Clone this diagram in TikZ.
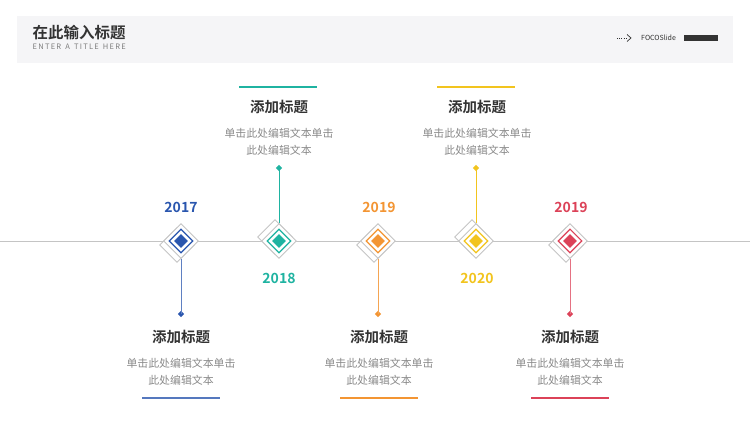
\documentclass[tikz,border=0pt]{standalone}
\usepackage{fontspec}
\setmainfont{Noto Sans CJK SC}
\newfontfamily\cjk{Noto Sans CJK SC}
\newfontfamily\cjkb{Noto Sans CJK SC Bold}
\usetikzlibrary{shapes.geometric}
\definecolor{cblue}{HTML}{2A56AE}
\definecolor{cteal}{HTML}{1FB3A1}
\definecolor{corange}{HTML}{F39533}
\definecolor{cyellow}{HTML}{F2C41E}
\definecolor{cred}{HTML}{DC4258}
\definecolor{hdrbg}{HTML}{F5F5F7}
\definecolor{lgray}{HTML}{C4C4C4}
\definecolor{txtgray}{HTML}{8A8A8A}
\definecolor{ttl}{HTML}{333333}
\tikzset{
  dia/.style={shape=diamond, aspect=1, inner sep=0pt, minimum width=#1, minimum height=#1},
  outerdia/.style={dia=35pt, draw=lgray, fill=white, line width=0.9pt},
  shadowdia/.style={dia=35pt, draw=lgray, line width=0.9pt},
  ringdia/.style={dia=24pt, draw=#1, line width=1.1pt},
  coredia/.style={dia=14pt, fill=#1},
  dotdia/.style={dia=6.5pt, fill=#1},
  stem/.style={draw=#1, line width=1pt},
  year/.style={text=#1, font=\cjkb\fontsize{14}{16}\selectfont, inner sep=0pt},
  blktitle/.style={text=ttl, font=\cjkb\fontsize{14.5}{16}\selectfont, inner sep=0pt},
  blkbody/.style={text=txtgray, font=\cjk\fontsize{10.9}{17}\selectfont, align=center, inner sep=0pt},
  uline/.style={draw=#1, line width=1.2pt},
}
\begin{document}
\begin{tikzpicture}[x=1pt,y=-1pt]
\useasboundingbox (0,0) rectangle (750,422);
% header
\fill[hdrbg] (17,16) rectangle (733,63);
\node[anchor=west, inner sep=0pt, text=ttl, font=\cjkb\fontsize{15.5}{17}\selectfont] (htitle) at (32.5,33) {在此输入标题};
\node[anchor=west, inner sep=0pt, text=txtgray!90!black, font=\cjk\fontsize{7.5}{8}\selectfont] (hsub) at (32.5,47) {E\,N\,T\,E\,R\, \,A\, \,T\,I\,T\,L\,E\, \,H\,E\,R\,E};
\coordinate (arrA) at (617,38);
\draw[ttl, line width=0.6pt, dash pattern=on 1pt off 1.2pt] (arrA) -- ++(9,0);
\draw[ttl, line width=0.7pt] (627,34.5) -- (631,38) -- (627,41.5);
\node[anchor=west, inner sep=0pt, text=ttl, font=\cjk\fontsize{7}{8}\selectfont] (brand) at (641,38) {FOCOSlide};
\fill[ttl] (684,35.5) rectangle (718,41);
% timeline
\coordinate (tlL) at (0,241);
\coordinate (tlR) at (750,241);
\draw[lgray, line width=0.9pt] (tlL) -- (tlR);
% markers
\foreach \n/\x/\c/\d in {a/181/cblue/1, b/279/cteal/-1, c/378/corange/1, d/476/cyellow/-1, e/570/cred/1}{
  \node[shadowdia] (sh\n) at (\x-4,241+4*\d) {};
  \node[outerdia] (m\n) at (\x,241) {};
  \node[ringdia=\c] (r\n) at (m\n) {};
  \node[coredia=\c] (k\n) at (m\n) {};
}
% stems
\node[dotdia=cblue] (ea) at (181,314) {};
\node[dotdia=cteal] (eb) at (279,168) {};
\node[dotdia=corange] (ec) at (378,314) {};
\node[dotdia=cyellow] (ed) at (476,168) {};
\node[dotdia=cred] (ee) at (570,314) {};
\draw[stem=cblue!75] (ma.south) -- (ea.center);
\draw[stem=cteal] (mb.north) -- (eb.center);
\draw[stem=corange!85] (mc.south) -- (ec.center);
\draw[stem=cyellow] (md.north) -- (ed.center);
\draw[stem=cred!75] (me.south) -- (ee.center);
% years
\node[year=cblue] (ya) at (181,207) {2017};
\node[year=cteal] (yb) at (279,278) {2018};
\node[year=corange] (yc) at (379,207) {2019};
\node[year=cyellow] (yd) at (477,278) {2020};
\node[year=cred] (ye) at (571,207) {2019};
% text blocks top
\coordinate (ub1) at (239,87); \coordinate (ub2) at (317,87);
\draw[uline=cteal] (ub1) -- (ub2);
\node[blktitle] (tb) at (279,107) {添加标题};
\node[blkbody] (bb) at (279,141.5) {单击此处编辑文本单击\\此处编辑文本};
\coordinate (ud1) at (437,87); \coordinate (ud2) at (515,87);
\draw[uline=cyellow] (ud1) -- (ud2);
\node[blktitle] (td) at (477,107) {添加标题};
\node[blkbody] (bd) at (477,141.5) {单击此处编辑文本单击\\此处编辑文本};
% text blocks bottom
\node[blktitle] (ta) at (181,337) {添加标题};
\node[blkbody] (ba) at (181,371.5) {单击此处编辑文本单击\\此处编辑文本};
\coordinate (ua1) at (142,398); \coordinate (ua2) at (220,398);
\draw[uline=cblue!80] (ua1) -- (ua2);
\node[blktitle] (tc) at (379,337) {添加标题};
\node[blkbody] (bc) at (379,371.5) {单击此处编辑文本单击\\此处编辑文本};
\coordinate (uc1) at (340,398); \coordinate (uc2) at (418,398);
\draw[uline=corange] (uc1) -- (uc2);
\node[blktitle] (te) at (570,337) {添加标题};
\node[blkbody] (be) at (570,371.5) {单击此处编辑文本单击\\此处编辑文本};
\coordinate (ue1) at (531,398); \coordinate (ue2) at (609,398);
\draw[uline=cred] (ue1) -- (ue2);
\end{tikzpicture}
\end{document}
